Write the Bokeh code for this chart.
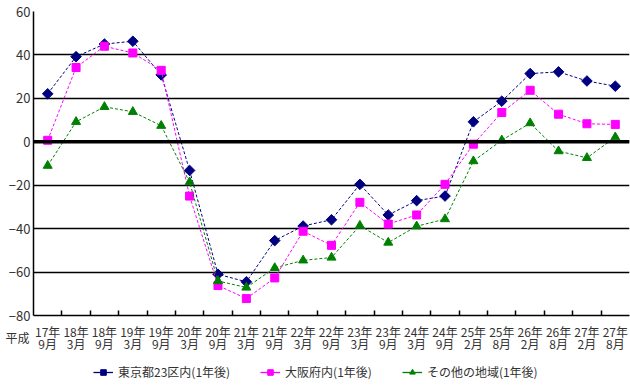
import math
from bokeh.plotting import figure
from bokeh.layouts import column
from bokeh.models import (FixedTicker, Range1d, Span, Legend, LegendItem, ColumnDataSource)
from bokeh.core.properties import value
from bokeh.embed import file_html
from bokeh.resources import INLINE

categories = ["17年\n9月", "18年\n3月", "18年\n9月", "19年\n3月", "19年\n9月", "20年\n3月", "20年\n9月",
              "21年\n3月", "21年\n9月", "22年\n3月", "22年\n9月", "23年\n3月", "23年\n9月", "24年\n3月",
              "24年\n9月", "25年\n2月", "25年\n8月", "26年\n2月", "26年\n8月", "27年\n2月", "27年\n8月"]
era_label = "平成"
tokyo = [22.1, 39.2, 45.0, 46.3, 30.8, -13.2, -61.0, -64.5, -45.5, -38.8, -35.9, -19.6, -33.7, -27.1,
         -25.0, 9.2, 18.7, 31.4, 32.2, 28.0, 25.6]
osaka = [0.7, 34.2, 44.0, 40.9, 32.9, -25.0, -66.2, -72.2, -62.7, -41.2, -47.7, -27.9, -37.9, -33.7,
         -19.6, -1.1, 13.5, 23.7, 12.7, 8.3, 8.0]
others = [-11.0, 9.2, 16.1, 13.8, 7.4, -18.6, -64.1, -67.1, -58.1, -54.6, -53.3, -38.6, -46.4, -38.9,
          -35.6, -8.9, 0.7, 8.6, -4.3, -7.4, 2.1]
series_names = ["東京都23区内(1年後)", "大阪府内(1年後)", "その他の地域(1年後)"]
y_ticks = [-80, -60, -40, -20, 0, 20, 40, 60]

FONT = "Noto Sans CJK JP"
TXT = "#333333"
xs = list(range(len(categories)))
n = len(categories)

W = 630
LEFT, RIGHT = 33, 1
MAIN_H, BOT_H = 323, 64

p = figure(width=W, height=MAIN_H, output_backend="svg", toolbar_location=None,
           x_range=Range1d(-0.5, n - 0.5), y_range=Range1d(-80, 60),
           min_border_left=LEFT, min_border_right=RIGHT, min_border_top=11, min_border_bottom=8)
p.outline_line_color = None

p.yaxis.ticker = FixedTicker(ticks=y_ticks)
p.yaxis.major_tick_in = 0
p.yaxis.major_tick_out = 0
p.yaxis.minor_tick_line_color = None
p.yaxis.major_label_standoff = 3
p.yaxis.major_label_text_font = FONT
p.yaxis.major_label_text_font_size = "13px"
p.yaxis.major_label_text_color = TXT
p.yaxis.axis_line_color = "black"
p.yaxis.axis_line_width = 1.5

p.xaxis.ticker = FixedTicker(ticks=xs, minor_ticks=[i + 0.5 for i in xs[:-1]])
p.xaxis.major_label_overrides = {i: "" for i in xs}
p.xaxis.major_label_text_font_size = "1px"
p.xaxis.major_label_standoff = 0
p.xaxis.major_tick_in = 0
p.xaxis.major_tick_out = 0
p.xaxis.minor_tick_in = 5
p.xaxis.minor_tick_out = 0
p.xaxis.minor_tick_line_color = "black"
p.xaxis.minor_tick_line_width = 1.5
p.xaxis.axis_line_color = "black"
p.xaxis.axis_line_width = 1.5

p.xgrid.grid_line_color = None
p.ygrid.ticker = FixedTicker(ticks=y_ticks)
p.ygrid.grid_line_color = "black"
p.ygrid.grid_line_width = 1.5
p.add_layout(Span(location=0, dimension="width", line_color="black", line_width=3.5))

styles = [
    (tokyo, "#000080", "square", 7.5, math.pi / 4),
    (osaka, "#FF00FF", "square", 8, 0),
    (others, "#008000", "triangle", 9, 0),
]
for (vals, color, marker, size, ang) in styles:
    src = ColumnDataSource(dict(x=xs, y=vals))
    p.line("x", "y", source=src, line_color=color, line_width=1, line_dash="3 2")
    p.scatter("x", "y", source=src, marker=marker, size=size, angle=ang,
              fill_color=color, line_color=color)

# bottom strip (frame aligned with the main plot): category labels, era label, legend
p2 = figure(width=W, height=BOT_H, output_backend="svg", toolbar_location=None,
            x_range=Range1d(-0.5, n - 0.5), y_range=Range1d(BOT_H, 0),
            min_border_left=LEFT, min_border_right=RIGHT, min_border_top=0, min_border_bottom=0)
p2.xaxis.visible = False
p2.grid.visible = False
p2.outline_line_color = None
p2.yaxis.ticker = FixedTicker(ticks=[14])
p2.yaxis.major_label_overrides = {14: era_label}
p2.yaxis.major_tick_in = 0
p2.yaxis.major_tick_out = 0
p2.yaxis.minor_tick_line_color = None
p2.yaxis.axis_line_color = None
p2.yaxis.major_label_standoff = 4
p2.yaxis.major_label_text_font = FONT
p2.yaxis.major_label_text_font_size = "12px"
p2.yaxis.major_label_text_color = TXT

rows = [c.split("\n") for c in categories]
p2.text(x=xs, y=[8] * n, text=[r[0] for r in rows], text_font=value(FONT), text_font_size="12px",
        text_color=TXT, text_align="center", text_baseline="middle")
p2.text(x=xs, y=[20] * n, text=[r[1] for r in rows], text_font=value(FONT), text_font_size="12px",
        text_color=TXT, text_align="center", text_baseline="middle")

items = []
for (vals, color, marker, size, ang), name in zip(styles, series_names):
    nan_src = ColumnDataSource(dict(x=[float("nan")], y=[float("nan")]))
    ln = p2.line("x", "y", source=nan_src, line_color=color, line_width=1.3)
    sc = p2.scatter("x", "y", source=nan_src, marker=marker, size=size + 2, angle=ang,
                    fill_color=color, line_color=color)
    items.append(LegendItem(label=name, renderers=[ln, sc]))

legend = Legend(items=items, orientation="horizontal", location=(60, 7),
                label_text_font=FONT, label_text_font_size="12px", label_text_color=TXT,
                border_line_color=None, background_fill_alpha=0, glyph_width=20, glyph_height=14,
                label_height=14, spacing=30, margin=0, padding=0, label_standoff=5)
p2.add_layout(legend)

layout = column(p, p2, spacing=0)
open("out.html", "w").write(file_html(layout, INLINE))
